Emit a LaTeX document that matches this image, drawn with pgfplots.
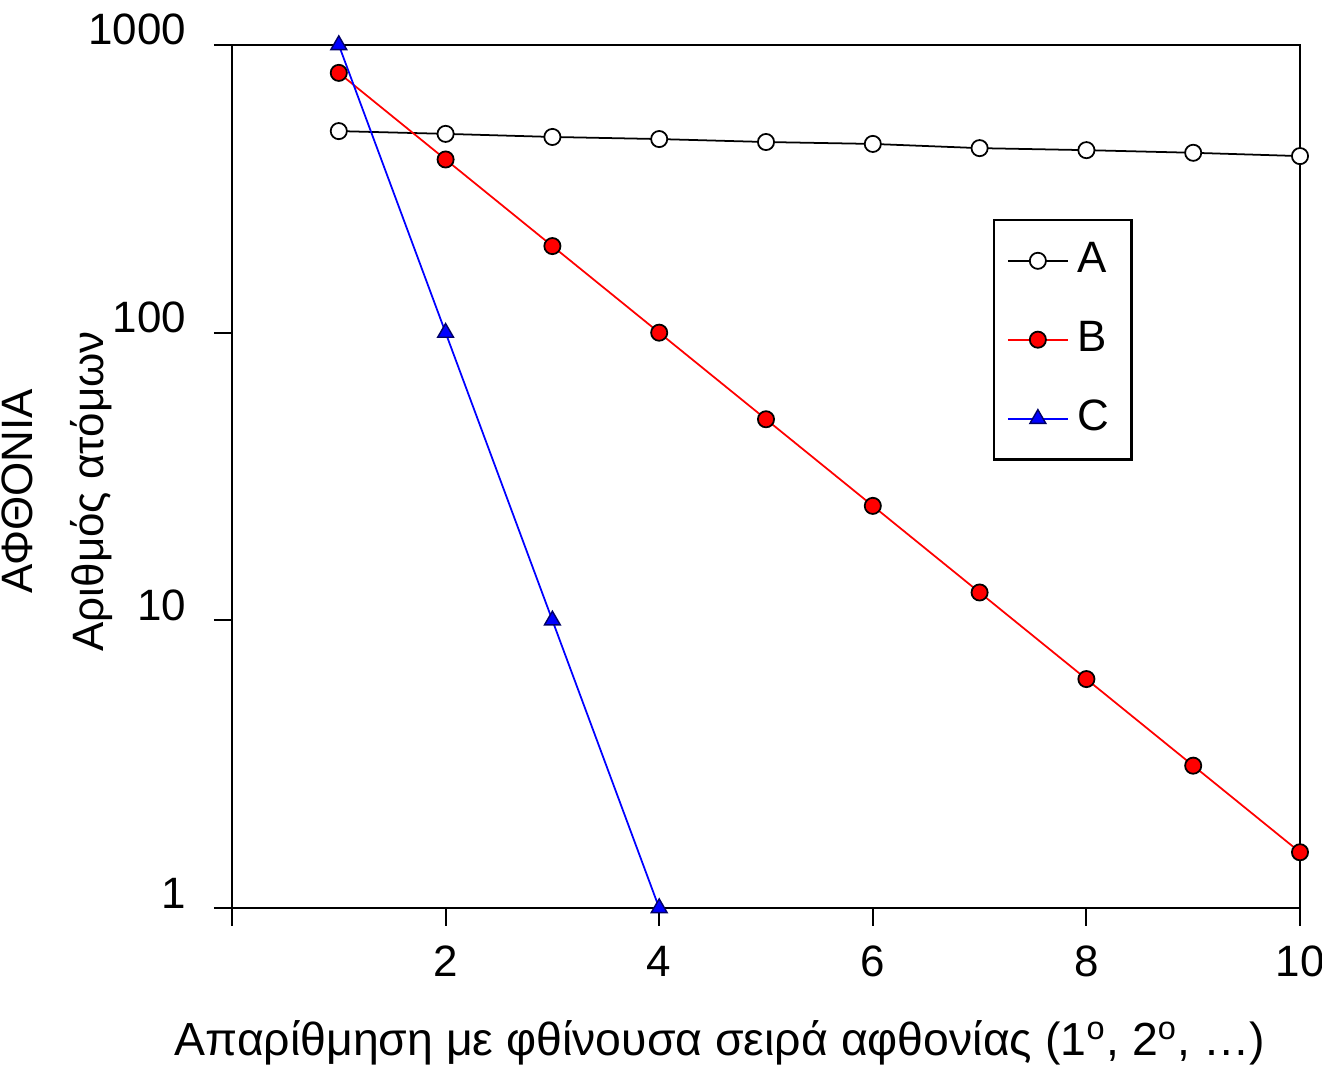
\documentclass[border=0pt]{standalone}
\usepackage{fontspec}
\setmainfont{Liberation Sans}
\usepackage{pgfplots}
\pgfplotsset{compat=1.18}
\begin{document}
\begin{tikzpicture}
\fontsize{12.5}{15}\selectfont
\begin{axis}[
  at={(0,0)}, anchor=south west,
  scale only axis, width=106.8mm, height=86.3mm,
  xmin=0, xmax=10, ymode=log, ymin=1, ymax=1000,
  xtick={0,2,4,6,8,10}, xticklabels={,2,4,6,8,10},
  ytick={1,10,100,1000}, yticklabels={1,10,100,1000},
  yminorticks=false, xminorticks=false,
  tick align=outside, major tick length=1.8mm,
  xtick pos=bottom, ytick pos=left,
  axis line style={line width=0.6pt},
  tick style={line width=0.6pt, black},
  /pgf/number format/assume math mode=true,
  ticklabel style={font=\fontsize{12.5}{15}\selectfont},
  yticklabel style={anchor=base east, inner sep=0pt, xshift=-2.7mm},
  xticklabel style={anchor=base, inner sep=0pt, yshift=-5.1mm},
  xlabel={Απαρίθμηση με φθίνουσα σειρά αφθονίας (1\textsuperscript{ο}, 2\textsuperscript{ο}, …)},
  xlabel style={at={(axis description cs:0.457,0)}, anchor=base, yshift=-14.7mm, inner sep=0pt, font=\fontsize{13.2}{15}\selectfont},
  clip=false,
  legend style={at={(rel axis cs:0.7125,0.798)}, anchor=north west, draw=black, line width=0.6pt,
    inner xsep=1.3mm, inner ysep=1.5mm, row sep=2.8mm, font=\fontsize{12.5}{15}\selectfont,
    nodes={inner xsep=0.9mm}},
  legend cell align=left,
]
\addplot[black, line width=0.5pt, mark=*, mark size=2.3pt, mark options={fill=white, draw=black, line width=0.5pt}]
  coordinates {(1,502) (2,491) (3,479) (4,471) (5,460) (6,453) (7,438) (8,431) (9,422) (10,411)};
\addlegendentry{A}
\addplot[red, line width=0.5pt, mark=*, mark size=2.3pt, mark options={fill=red, draw=black, line width=0.5pt}]
  coordinates {(1,800) (2,400) (3,200) (4,100) (5,50) (6,25) (7,12.5) (8,6.25) (9,3.125) (10,1.5625)};
\addlegendentry{B}
\addplot[blue, line width=0.5pt, mark=triangle*, mark size=2.6pt, mark options={fill=blue, draw=black!60!blue, line width=0.4pt}]
  coordinates {(1,1000) (2,100) (3,10) (4,1)};
\addlegendentry{C}
\path (rel axis cs:0,0.483) ++(-19.9mm,0mm) node[rotate=90, anchor=base, inner sep=0pt] {ΑΦΘΟΝΙΑ};
\path (rel axis cs:0,0.483) ++(-12.8mm,0mm) node[rotate=90, anchor=base, inner sep=0pt] {Αριθμός ατόμων};
\end{axis}
\pgfresetboundingbox
\path (-23.2mm,-15.9mm) rectangle (109mm,90.8mm);
\end{tikzpicture}
\end{document}
